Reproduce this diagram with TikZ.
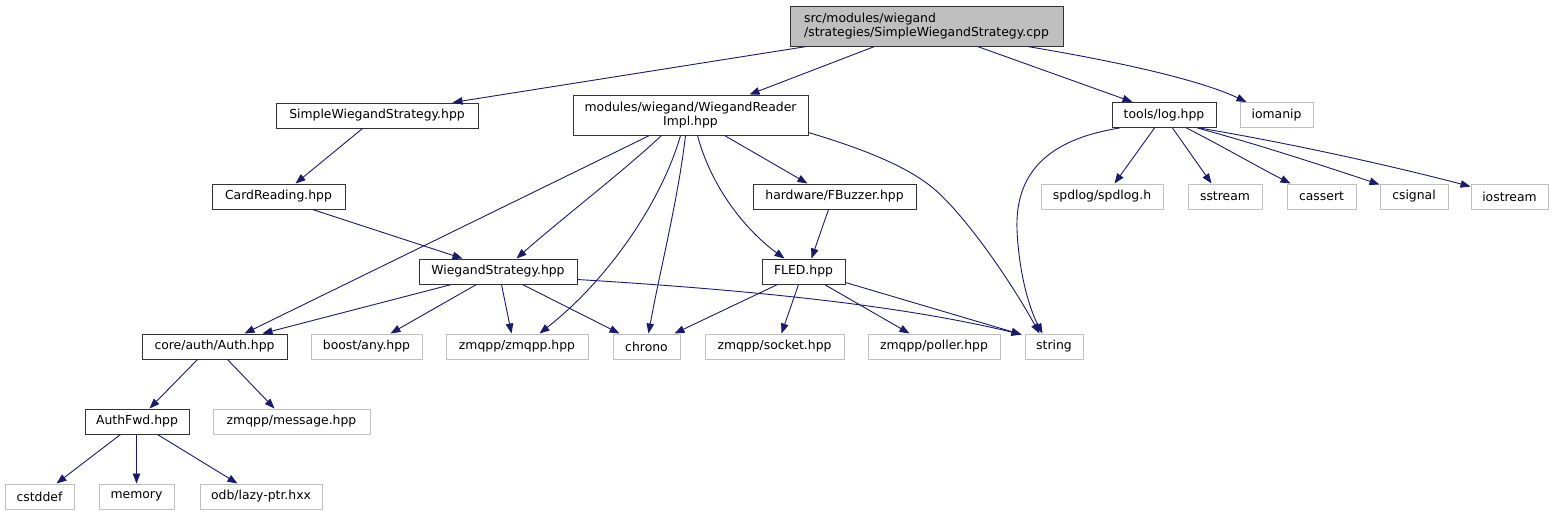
\documentclass[tikz,border=0pt]{standalone}
\usepackage{fontspec}
\setmainfont{DejaVu Sans}
\usetikzlibrary{arrows.meta}
\definecolor{navy}{HTML}{191970}
\definecolor{extgray}{HTML}{BFBFBF}
\definecolor{docgray}{HTML}{BFBFBF}
\tikzset{
  box/.style={inner sep=0pt, font=\fontsize{12.4}{14.8}\selectfont, minimum height=25pt},
  doc/.style={box, draw=black!80, line width=1pt, fill=white},
  ext/.style={box, draw=extgray, line width=1pt, fill=white},
  edge/.style={draw=navy, line width=0.9pt, -{Triangle[length=10pt,width=7.5pt]}},
}
\begin{document}
\begin{tikzpicture}[x=1pt,y=-1pt]
\fill[white] (0,0) rectangle (1555,515);
\useasboundingbox (0,0) rectangle (1555,515);

% rank 0
\node[doc, fill=docgray, minimum width=273pt, minimum height=40pt, align=left] (root) at (926.5,26) {src/modules/wiegand\\/strategies/SimpleWiegandStrategy.cpp};
% rank 1
\node[doc, minimum width=202pt] (sws) at (377,115.5) {SimpleWiegandStrategy.hpp};
\node[doc, minimum width=235pt, minimum height=40pt, align=center] (wri) at (690.5,115) {modules/wiegand/WiegandReader\\Impl.hpp};
\node[doc, minimum width=104pt] (log) at (1164,115) {tools/log.hpp};
\node[ext, minimum width=73pt] (iomanip) at (1276.5,115) {iomanip};
% rank 2
\node[doc, minimum width=133pt] (card) at (278.5,196.5) {CardReading.hpp};
\node[doc, minimum width=163pt] (fbuzz) at (834.5,196.5) {hardware/FBuzzer.hpp};
\node[ext, minimum width=122pt] (spdlog) at (1102,196.5) {spdlog/spdlog.h};
\node[ext, minimum width=74pt] (sstream) at (1225,196.5) {sstream};
\node[ext, minimum width=69pt] (cassert) at (1321.5,196.5) {cassert};
\node[ext, minimum width=68pt] (csignal) at (1414,196.5) {csignal};
\node[ext, minimum width=77pt] (iostream) at (1509.5,196.5) {iostream};
% rank 3
\node[doc, minimum width=158pt] (ws) at (498,271.5) {WiegandStrategy.hpp};
\node[doc, minimum width=83pt] (fled) at (803.5,271.5) {FLED.hpp};
% rank 4
\node[doc, minimum width=145pt] (auth) at (214.5,346.5) {core/auth/Auth.hpp};
\node[ext, minimum width=111pt] (boost) at (366.5,346.5) {boost/any.hpp};
\node[ext, minimum width=142pt] (zmqpp) at (517,346.5) {zmqpp/zmqpp.hpp};
\node[ext, minimum width=67pt] (chrono) at (646.5,346.5) {chrono};
\node[ext, minimum width=139pt] (socket) at (774.5,346.5) {zmqpp/socket.hpp};
\node[ext, minimum width=132pt] (poller) at (934,346.5) {zmqpp/poller.hpp};
\node[ext, minimum width=58pt] (string) at (1054,346.5) {string};
% rank 5
\node[doc, minimum width=104pt] (authfwd) at (137,421.5) {AuthFwd.hpp};
\node[ext, minimum width=157pt] (message) at (291.5,421.5) {zmqpp/message.hpp};
% rank 6
\node[ext, minimum width=69pt] (cstddef) at (39.5,496.5) {cstddef};
\node[ext, minimum width=75pt] (memory) at (136.5,496.5) {memory};
\node[ext, minimum width=122pt] (odb) at (261,496.5) {odb/lazy-ptr.hxx};

% edges from root
\draw[edge] ([xshift=17pt]root.south west) -- ([xshift=177pt]sws.north west);
\draw[edge] ([xshift=85pt]root.south west) -- ([xshift=177pt]wri.north west);
\draw[edge] ([xshift=188pt]root.south west) -- ([xshift=21pt]log.north west);
\draw[edge] ([xshift=238pt]root.south west) .. controls (1120,62) and (1200,80) .. ([xshift=7pt]iomanip.north west);

% sws / card
\draw[edge] ([xshift=87pt]sws.south west) -- ([xshift=84pt]card.north west);
\draw[edge] ([xshift=101pt]card.south west) -- ([xshift=44pt]ws.north west);

% from wri
\draw[edge] ([xshift=77pt]wri.south west) -- ([xshift=103pt]auth.north west);
\draw[edge] ([xshift=89pt]wri.south west) .. controls (625,170) and (560,220) .. ([xshift=98pt]ws.north west);
\draw[edge] ([xshift=108pt]wri.south west) .. controls (662,200) and (610,278) .. ([xshift=94pt]zmqpp.north west);
\draw[edge] ([xshift=113pt]wri.south west) .. controls (678,200) and (660,270) .. ([xshift=36pt]chrono.north west);
\draw[edge] ([xshift=125pt]wri.south west) .. controls (712,190) and (748,232) .. ([xshift=23pt]fled.north west);
\draw[edge] ([xshift=152pt]wri.south west) -- ([xshift=55pt]fbuzz.north west);
\draw[edge] ([yshift=3pt]wri.south east) .. controls (860,148) and (905,165) .. (933,188) .. controls (965,215) and (1010,280) .. ([xshift=15pt]string.north west);

% from log
\draw[edge] ([xshift=8pt]log.south west) .. controls (1045,140) and (1015,175) .. (1017,230) .. controls (1019,275) and (1030,310) .. ([xshift=18pt]string.north west);
\draw[edge] ([xshift=43pt]log.south west) -- ([xshift=74pt]spdlog.north west);
\draw[edge] ([xshift=61pt]log.south west) -- ([xshift=24pt]sstream.north west);
\draw[edge] ([xshift=75pt]log.south west) .. controls (1220,145) and (1260,168) .. ([xshift=4pt]cassert.north west);
\draw[edge] ([xshift=86pt]log.south west) .. controls (1260,145) and (1330,168) .. ([xshift=0pt,yshift=-1pt]csignal.north west);
\draw[edge] ([xshift=88pt]log.south west) .. controls (1300,145) and (1400,168) .. ([yshift=-3pt]iostream.north west);

% fbuzz
\draw[edge] ([xshift=76pt]fbuzz.south west) -- ([xshift=50pt]fled.north west);

% from ws
\draw[edge] ([xshift=33pt]ws.south west) -- ([xshift=121pt]auth.north west);
\draw[edge] ([xshift=58pt]ws.south west) -- ([xshift=80pt]boost.north west);
\draw[edge] ([xshift=83pt]ws.south west) -- ([xshift=66pt]zmqpp.north west);
\draw[edge] ([xshift=104pt]ws.south west) -- ([xshift=7pt]chrono.north west);
\draw[edge] ([yshift=5pt]ws.south east) .. controls (750,290) and (900,305) .. ([xshift=-3pt,yshift=-1pt]string.north west);

% from fled
\draw[edge] ([xshift=16pt]fled.south west) -- ([xshift=62pt]chrono.north west);
\draw[edge] ([xshift=37pt]fled.south west) -- ([xshift=77pt]socket.north west);
\draw[edge] ([xshift=63pt]fled.south west) -- ([xshift=42pt]poller.north west);
\draw[edge] ([yshift=2pt]fled.south east) -- ([xshift=-3pt,yshift=-1pt]string.north west);

% from auth
\draw[edge] ([xshift=56pt]auth.south west) -- ([xshift=65pt]authfwd.north west);
\draw[edge] ([xshift=86pt]auth.south west) -- ([xshift=62pt]message.north west);

% from authfwd
\draw[edge] ([xshift=36pt]authfwd.south west) -- ([xshift=52pt]cstddef.north west);
\draw[edge] ([xshift=52pt]authfwd.south west) -- ([xshift=38pt]memory.north west);
\draw[edge] ([xshift=73pt]authfwd.south west) -- ([xshift=38pt]odb.north west);
\end{tikzpicture}
\end{document}
